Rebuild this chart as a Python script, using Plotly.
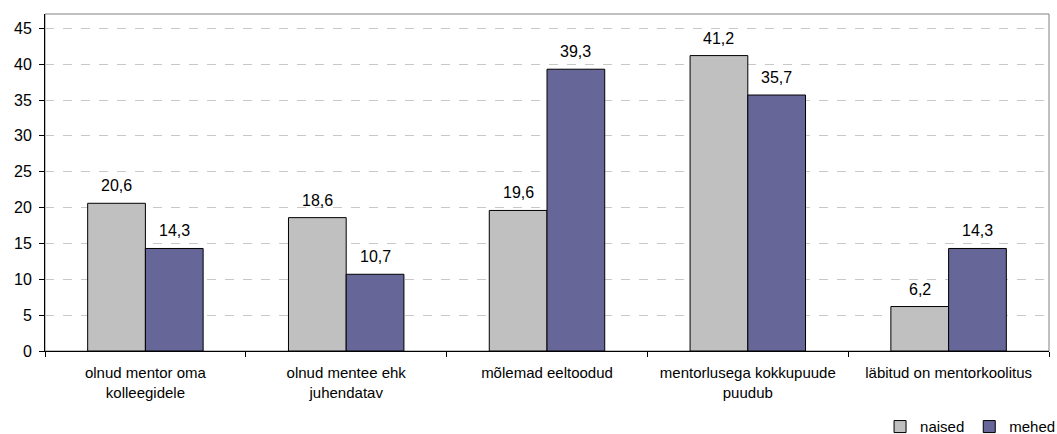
import plotly.graph_objects as go

categories = [
    "olnud mentor oma<br>kolleegidele",
    "olnud mentee ehk<br>juhendatav",
    "mõlemad eeltoodud",
    "mentorlusega kokkupuude<br>puudub",
    "läbitud on mentorkoolitus",
]
naised = [20.6, 18.6, 19.6, 41.2, 6.2]
mehed = [14.3, 10.7, 39.3, 35.7, 14.3]
y_ticks = [0, 5, 10, 15, 20, 25, 30, 35, 40, 45]

W, H = 1057, 434
M_L, M_R, M_T, M_B = 45, 8, 14, 83
BARGAP = 0.425
FONT = "Liberation Sans, Arial, sans-serif"
FS = 16

fig = go.Figure()
fig.add_trace(go.Bar(
    name="naised", x=categories, y=naised,
    marker=dict(color="#C0C0C0", line=dict(color="#000000", width=1)),
))
fig.add_trace(go.Bar(
    name="mehed", x=categories, y=mehed,
    marker=dict(color="#666699", line=dict(color="#000000", width=1)),
))

# value labels above each bar, shifted to the bar centres within a group
cat_w = (W - M_L - M_R) / len(categories)
half = cat_w * (1 - BARGAP) / 4
annotations = []
for series, dx in ((naised, -half), (mehed, half)):
    for c, v in zip(categories, series):
        annotations.append(dict(
            x=c, y=v, xref="x", yref="y", text=f"{v:.1f}".replace(".", ","),
            showarrow=False, yanchor="bottom", xshift=dx, yshift=7,
            font=dict(family=FONT, size=FS, color="#000000"),
        ))

fig.update_layout(
    width=W, height=H,
    margin=dict(l=M_L, r=M_R, t=M_T, b=M_B, autoexpand=False),
    paper_bgcolor="#FFFFFF", plot_bgcolor="#FFFFFF",
    barmode="group", bargap=BARGAP, bargroupgap=0,
    font=dict(family=FONT, size=FS, color="#000000"),
    annotations=annotations,
    legend=dict(
        orientation="h", x=1.012, xanchor="right", y=-0.225, yanchor="middle",
        font=dict(family=FONT, size=FS - 1, color="#000000"),
        itemwidth=30, traceorder="normal", bgcolor="rgba(0,0,0,0)",
    ),
    shapes=[dict(
        type="rect", xref="paper", yref="paper", x0=0, x1=1, y0=0, y1=1,
        line=dict(color="#808080", width=1), layer="below",
    )],
)
fig.update_xaxes(
    type="category", tickson="boundaries", ticks="outside", ticklen=5,
    tickcolor="#000000", showline=True, linecolor="#000000", linewidth=1,
    showgrid=False, tickfont=dict(family=FONT, size=FS - 1), automargin=False,
    ticklabelstandoff=8,
)
fig.update_yaxes(
    range=[0, 47], tickvals=y_ticks, ticks="outside", ticklen=5,
    tickcolor="#000000", showline=True, linecolor="#000000", linewidth=1,
    showgrid=True, gridcolor="#C8C8C8", griddash="dash", gridwidth=1,
    zeroline=False, tickfont=dict(family=FONT, size=FS), automargin=False,
    ticklabelstandoff=4,
)

fig.write_html("out.html")
